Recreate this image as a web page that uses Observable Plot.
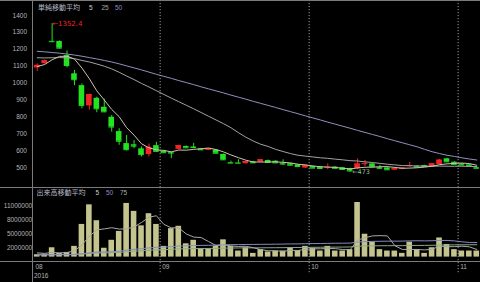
<!DOCTYPE html>
<html><head><meta charset="utf-8">
<script src="https://cdn.jsdelivr.net/npm/d3@7"></script>
<script src="https://cdn.jsdelivr.net/npm/@observablehq/plot@0.6"></script>
<style>
html,body{margin:0;padding:0;background:#000;}
#root{position:relative;width:480px;height:282px;background:#000;overflow:hidden;}
#root svg{position:absolute;left:0;}
.line{position:absolute;background:#7a7a7a;}
.lg{position:absolute;font-family:"Noto Sans CJK JP",sans-serif;font-size:7px;line-height:7px;white-space:nowrap;color:#b8bcc8;}
.num{position:absolute;font-family:"Liberation Sans",Arial,sans-serif;font-size:6.5px;line-height:7px;white-space:nowrap;}
</style></head><body><div id="root"></div>
<script>
const dates = ["2016-08-08","2016-08-09","2016-08-10","2016-08-12","2016-08-15","2016-08-16","2016-08-17","2016-08-18","2016-08-19","2016-08-22","2016-08-23","2016-08-24","2016-08-25","2016-08-26","2016-08-29","2016-08-30","2016-08-31",
"2016-09-01","2016-09-02","2016-09-05","2016-09-06","2016-09-07","2016-09-08","2016-09-09","2016-09-12","2016-09-13","2016-09-14","2016-09-15","2016-09-16","2016-09-20","2016-09-21","2016-09-23","2016-09-26","2016-09-27","2016-09-28","2016-09-29","2016-09-30",
"2016-10-03","2016-10-04","2016-10-05","2016-10-06","2016-10-07","2016-10-11","2016-10-12","2016-10-13","2016-10-14","2016-10-17","2016-10-18","2016-10-19","2016-10-20","2016-10-21","2016-10-24","2016-10-25","2016-10-26","2016-10-27","2016-10-28","2016-10-31",
"2016-11-01","2016-11-02","2016-11-04"];
const open  = [1090,1115,1247,1246,1163,1055,985,865,910,857,798,713,642,635,611,577,630,596,590,608,625,622,611,602,604,578,530,528,523,535,532,542,538,524,523,516,497,506,504,500,503,499,494,494,520,522,500,498,485,491,508,508,512,505,518,552,532,522,516,500];
const high  = [1114,1137,1352.4,1250,1190,1075,995,935,917,905,808,730,690,660,622,640,650,600,592,633,628,643,614,613,607,580,538,546,538,537,548,545,540,546,525,518,515,508,506,522,505,501,496,552,542,524,513,500,498,500,530,512,514,525,548,555,535,524,518,503];
const low   = [1069,1112,1244,1203,1090,985,848,840,825,826,710,632,598,612,563,563,590,585,553,605,614,611,603,600,582,543,522,524,521,526,530,528,526,513,511,503,495,494,492,487,492,486,473,487,506,502,488,485,483,489,502,500,504,503,515,531,517,512,506,493];
const close = [1105,1132,1245,1207,1104,1020,868,932,848,830,740,656,606,627,577,620,596,588,586,630,617,619,605,610,585,546,527,526,536,528,546,530,528,521,514,506,513,497,495,502,496,489,480,521,523,504,496,487,495,497,512,503,506,522,544,534,519,515,508,496];
const ma5  = [1098,1110,1138,1158,1159,1142,1089,1026,954,900,844,801,736,692,641,617,605,602,593,604,603,608,611,616,607,593,575,559,544,533,533,533,534,531,528,520,516,510,505,503,501,496,492,498,502,503,505,506,501,496,497,499,503,508,517,522,525,527,524,514];
const ma25 = [1150,1149,1150,1151,1150,1145,1134,1125,1113,1100,1084,1064,1042,1021,998,977,955,933,911,890,869,848,826,804,782,760,736,707,680,657,638,625,608,595,583,573,568,563,558,555,550,546,541,539,534,530,525,520,516,512,511,510,509,508,509,508,508,508,507,506];
const ma50 = [1188,1185,1181,1177,1172,1166,1159,1151,1143,1134,1125,1114,1102,1090,1078,1065,1052,1040,1028,1015,1003,991,978,966,954,942,929,917,905,892,880,868,856,843,831,819,806,794,782,769,757,745,733,720,708,696,684,671,659,647,635,623,608,594,583,573,566,558,551,545];
const volume = [500000,600000,2000000,800000,1000000,2300000,7000000,11200000,7800000,1900000,3600000,5500000,11500000,9800000,6700000,9300000,7000000,2300000,6100000,6600000,2850000,3600000,1800000,1800000,2300000,3700000,2300000,1300000,2000000,800000,1600000,1100000,1300000,1300000,2000000,1400000,2300000,1900000,1300000,2300000,1300000,1300000,1600000,11700000,4900000,3200000,1600000,1300000,1300000,800000,3200000,1600000,800000,2000000,4100000,2700000,1600000,1300000,1300000,1300000];
const volMa5 = [900000,800000,1000000,900000,980000,1340000,2620000,4460000,5860000,6040000,6300000,6000000,6060000,6460000,7420000,8560000,8860000,7020000,6280000,6260000,4970000,4290000,4190000,3330000,2470000,2640000,2380000,2280000,2320000,2020000,1600000,1360000,1360000,1220000,1460000,1420000,1660000,1780000,1780000,1840000,1820000,1620000,1560000,3640000,4160000,4540000,4600000,4540000,2460000,1640000,1640000,1640000,1540000,1680000,2340000,2240000,2240000,2340000,2200000,1640000];
const volMa50 = [500000,500000,530000,540000,550000,580000,710000,930000,1070000,1100000,1160000,1260000,1480000,1670000,1790000,1970000,2100000,2140000,2250000,2370000,2420000,2480000,2510000,2530000,2570000,2630000,2670000,2680000,2710000,2720000,2740000,2750000,2770000,2790000,2820000,2830000,2870000,2900000,2910000,2950000,2970000,2980000,3000000,3230000,3320000,3370000,3390000,3410000,3420000,3430000,3480000,3500000,3480000,3500000,3570000,3570000,3470000,3270000,3140000,3130000];
const volMa75 = [500000,500000,520000,530000,530000,560000,640000,790000,880000,900000,940000,1010000,1160000,1280000,1360000,1480000,1570000,1590000,1670000,1750000,1780000,1820000,1840000,1850000,1880000,1920000,1940000,1960000,1980000,1980000,1990000,2000000,2010000,2020000,2040000,2060000,2080000,2100000,2110000,2130000,2140000,2150000,2170000,2320000,2380000,2410000,2430000,2440000,2450000,2450000,2490000,2500000,2510000,2530000,2580000,2600000,2620000,2630000,2640000,2650000];
const priceTicks = [500,600,700,800,900,1000,1100,1200,1300,1400];
const volumeTicks = [2000000,5000000,8000000,11000000];
const monthLabels = ["08","09","10","11"];
const yearLabel = "2016";
const priceLegendTitle = "単純移動平均";
const priceLegendPeriods = ["5","25","50"];
const volumeLegendTitle = "出来高移動平均";
const volumeLegendPeriods = ["5","50","75"];
const highNote = "←1352.4";
const lowNote = "←473";

const W = 480, LEFT = 33;
const RED = "#f42424", GREEN = "#22e222";
const MA_COLORS = ["#cfc3b0", "#a2a2a2", "#9090bc"];
const VMA_COLORS = ["#a8a8a8", "#8a8ac0", "#86ae86"];
const GRID = "#9a9a9a";

const rows = dates.map((date, i) => ({date, open: open[i], high: high[i], low: low[i], close: close[i],
  volume: volume[i], ma5: ma5[i], ma25: ma25[i], ma50: ma50[i],
  vma5: volMa5[i], vma50: volMa50[i], vma75: volMa75[i]}));
const monthStarts = dates.filter((d, i) => i === 0 || d.slice(5, 7) !== dates[i - 1].slice(5, 7));
const step = (W - LEFT) / dates.length;
const candleColor = d => d.close >= d.open ? RED : GREEN;
const xOpts = {type: "band", domain: dates, range: [LEFT, W], paddingInner: 0.25, paddingOuter: 0.125, align: 0.5, round: false, axis: null};
const maxRow = rows.reduce((a, b) => b.high > a.high ? b : a);
const minRow = rows.reduce((a, b) => b.low < a.low ? b : a);
const numFont = '"Liberation Sans", Arial, sans-serif';

const price = Plot.plot({
  width: W, height: 187, marginTop: 0, marginBottom: 0, marginRight: 0, marginLeft: LEFT,
  style: {background: "transparent", color: "#b4b4b4", fontFamily: numFont, fontSize: "6.5px", overflow: "visible"},
  x: xOpts,
  y: {domain: [400, 1450], range: [184.0, 6.55], ticks: priceTicks, tickFormat: d => String(d), tickSize: 0, tickPadding: 6.5},
  color: {type: "identity"},
  marks: [
    Plot.ruleX(monthStarts.slice(1), {dx: -step / 2, stroke: GRID, strokeDasharray: "1.2,1.8", strokeWidth: 1}),
    Plot.ruleX(rows, {x: "date", y1: "low", y2: "high", stroke: candleColor, strokeWidth: 1}),
    Plot.barY(rows, {x: "date", y1: "open", y2: "close", fill: candleColor}),
    Plot.tickY(rows, {x: "date", y: "close", stroke: candleColor, strokeWidth: 1}),
    Plot.line(rows, {x: "date", y: "ma50", stroke: MA_COLORS[2], strokeWidth: 1}),
    Plot.line(rows, {x: "date", y: "ma25", stroke: MA_COLORS[1], strokeWidth: 1}),
    Plot.line(rows, {x: "date", y: "ma5", stroke: MA_COLORS[0], strokeWidth: 1}),
    Plot.text([maxRow], {x: "date", y: "high", text: () => highNote, textAnchor: "start", dx: 0, fill: RED, fontSize: 7, fontFamily: "DejaVu Sans"}),
    Plot.text([minRow], {x: "date", y: "low", text: () => lowNote, textAnchor: "start", dx: 2, fill: "#8cc08c", fontSize: 6.5, fontFamily: "DejaVu Sans"})
  ]
});
price.style.top = "0px";

const vol = Plot.plot({
  width: W, height: 95, marginTop: 0, marginBottom: 9, marginRight: 0, marginLeft: LEFT,
  style: {background: "transparent", color: "#b4b4b4", fontFamily: numFont, fontSize: "6.5px", overflow: "visible"},
  x: xOpts,
  y: {domain: [0, 14000000], range: [69.6, 4.27], ticks: volumeTicks, tickFormat: d => String(d), tickSize: 0, tickPadding: 1.3},
  marks: [
    Plot.ruleX(monthStarts.slice(1), {dx: -step / 2, stroke: GRID, strokeDasharray: "1.2,1.8", strokeWidth: 1}),
    Plot.barY(rows, {x: "date", y: "volume", fill: "#c4c48e"}),
    Plot.line(rows, {x: "date", y: "vma75", stroke: VMA_COLORS[2], strokeWidth: 1}),
    Plot.line(rows, {x: "date", y: "vma50", stroke: VMA_COLORS[1], strokeWidth: 1}),
    Plot.line(rows, {x: "date", y: "vma5", stroke: VMA_COLORS[0], strokeWidth: 1}),
    Plot.text(monthStarts, {x: d => d, text: (d, i) => monthLabels[i], frameAnchor: "bottom", dy: -4.5, dx: -step / 2 + 2, textAnchor: "start", fill: "#b4b4b4"}),
    Plot.text([dates[0]], {x: d => d, text: () => yearLabel, frameAnchor: "bottom", dy: 4.5, dx: -step / 2 + 0.5, textAnchor: "start", fill: "#b4b4b4"})
  ]
});
vol.style.top = "187px";

const root = document.getElementById("root");
root.appendChild(price);
root.appendChild(vol);

function addLine(x, y, w, h) {
  const d = document.createElement("div");
  d.className = "line";
  Object.assign(d.style, {left: x + "px", top: y + "px", width: w + "px", height: h + "px"});
  root.appendChild(d);
}
addLine(0, 0, W, 1);
addLine(0, 187, W, 1);
addLine(0, 261, W, 1);
addLine(32, 0, 1, 282);

function addText(cls, text, x, y, color) {
  const d = document.createElement("div");
  d.className = cls;
  d.textContent = text;
  Object.assign(d.style, {left: x + "px", top: y + "px"});
  if (color) d.style.color = color;
  root.appendChild(d);
}
addText("lg", priceLegendTitle, 38, 4);
[89, 101.5, 115].forEach((x, i) => addText("num", priceLegendPeriods[i], x, 4, ["#d0d0d0", "#a8a8a8", "#8c8cc8"][i]));
addText("lg", volumeLegendTitle, 36.5, 189);
[95.5, 106, 120].forEach((x, i) => addText("num", volumeLegendPeriods[i], x, 189, ["#d0d0d0", "#8c8cc8", "#a0b4a0"][i]));
</script></body></html>
